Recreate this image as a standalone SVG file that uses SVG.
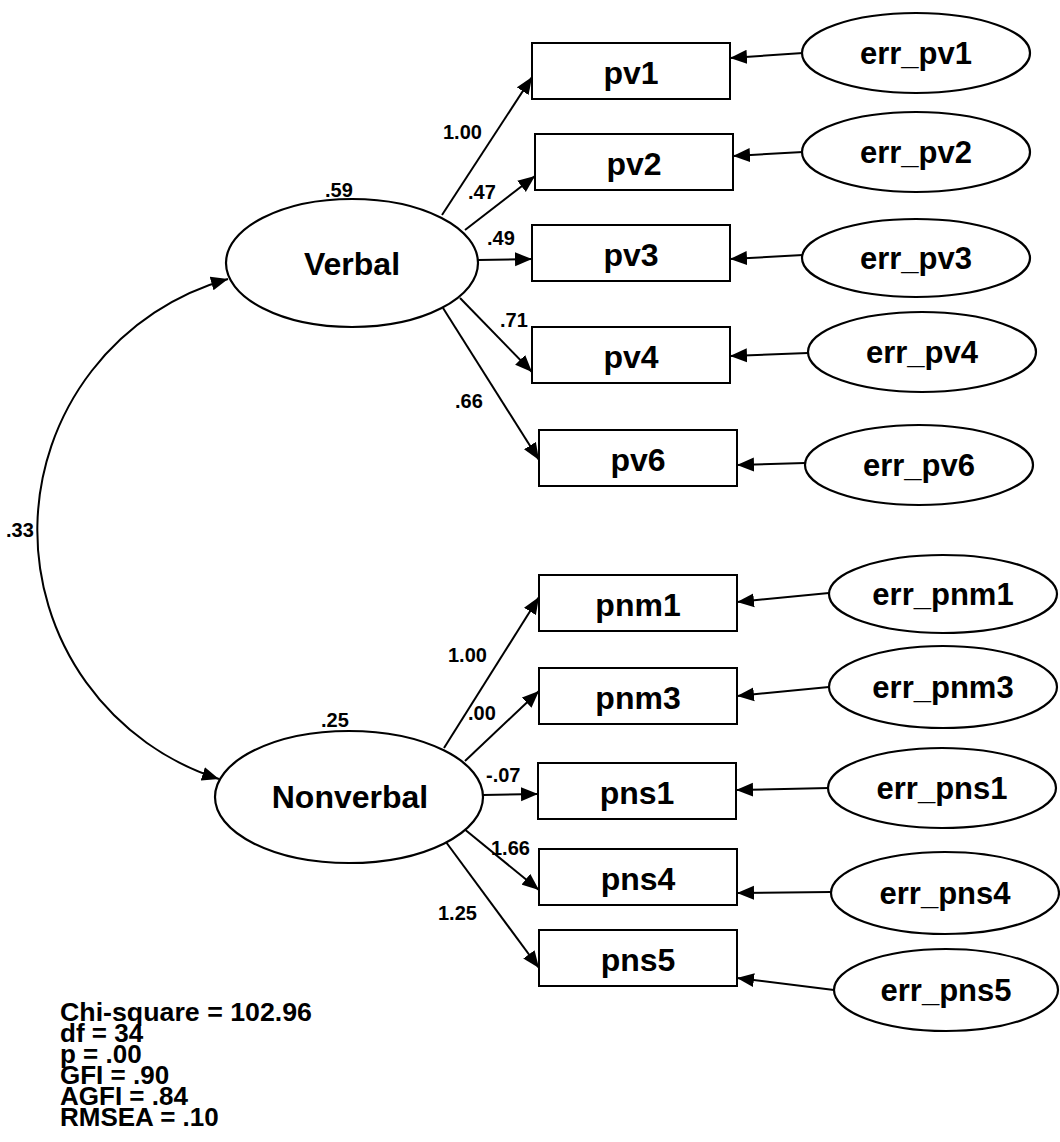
<svg xmlns="http://www.w3.org/2000/svg" width="1060" height="1142" viewBox="0 0 1060 1142">
  <style>
    .box { fill: #ffffff; stroke: #000000; stroke-width: 2; }
    .oval { fill: #ffffff; stroke: #000000; stroke-width: 2.2; }
    .node-label { font-family: "Liberation Sans", Arial, sans-serif; font-weight: bold; font-size: 32px; fill: #000000; text-anchor: middle; }
    .err-label { font-family: "Liberation Sans", Arial, sans-serif; font-weight: bold; font-size: 31px; fill: #000000; text-anchor: middle; }
    .coef { font-family: "Liberation Sans", Arial, sans-serif; font-weight: bold; font-size: 20px; fill: #000000; }
    .fit { font-family: "Liberation Sans", Arial, sans-serif; font-weight: bold; font-size: 26px; fill: #000000; }
    .edge { fill: none; stroke: #000000; stroke-width: 2; marker-end: url(#arrow); }
  </style>
  <defs>
    <marker id="arrow" markerUnits="userSpaceOnUse" markerWidth="19" markerHeight="15" refX="17" refY="7.5" orient="auto-start-reverse">
      <path d="M0,0.5 L17,7.5 L0,14.5 z" fill="#000000"/>
    </marker>
  </defs>
  <rect width="1060" height="1142" fill="#ffffff"/>

  <!-- connectors -->
  <g id="connectors">
    <!-- covariance between the latent factors -->
    <path class="edge" d="M228,279 A261,261 0 0 0 219,779" marker-start="url(#arrow)"/>
    <!-- Verbal loadings -->
    <line class="edge" x1="442" y1="215" x2="532" y2="77"/>
    <line class="edge" x1="465" y1="230" x2="535" y2="176"/>
    <line class="edge" x1="478" y1="260" x2="532" y2="259"/>
    <line class="edge" x1="460" y1="298" x2="532" y2="372"/>
    <line class="edge" x1="443" y1="308" x2="539" y2="460"/>
    <!-- Nonverbal loadings -->
    <line class="edge" x1="444" y1="748" x2="539" y2="597"/>
    <line class="edge" x1="465" y1="761" x2="539" y2="691"/>
    <line class="edge" x1="483" y1="795" x2="538" y2="794"/>
    <line class="edge" x1="463" y1="828" x2="539" y2="890"/>
    <line class="edge" x1="443" y1="838" x2="539" y2="968"/>
    <!-- error terms -->
    <line class="edge" x1="803" y1="53" x2="730" y2="58"/>
    <line class="edge" x1="803" y1="152" x2="733" y2="156"/>
    <line class="edge" x1="803" y1="255" x2="730" y2="259"/>
    <line class="edge" x1="808" y1="353" x2="730" y2="356"/>
    <line class="edge" x1="805" y1="463" x2="737" y2="465"/>
    <line class="edge" x1="829" y1="593" x2="737" y2="602"/>
    <line class="edge" x1="829" y1="687" x2="737" y2="696"/>
    <line class="edge" x1="829" y1="788" x2="736" y2="790"/>
    <line class="edge" x1="831" y1="892" x2="737" y2="893"/>
    <line class="edge" x1="834" y1="990" x2="737" y2="978"/>
  </g>

  <!-- coefficient labels -->
  <g id="coefficients">
    <text class="coef" x="325" y="197">.59</text>
    <text class="coef" x="443" y="139">1.00</text>
    <text class="coef" x="468" y="199">.47</text>
    <text class="coef" x="487" y="245">.49</text>
    <text class="coef" x="500" y="327">.71</text>
    <text class="coef" x="455" y="408">.66</text>
    <text class="coef" x="6" y="537">.33</text>
    <text class="coef" x="321" y="727">.25</text>
    <text class="coef" x="448" y="662">1.00</text>
    <text class="coef" x="468" y="720">.00</text>
    <text class="coef" x="486" y="782">-.07</text>
    <text class="coef" x="491" y="855">1.66</text>
    <text class="coef" x="438" y="920">1.25</text>
  </g>

  <!-- latent factors -->
  <g id="verbal">
    <ellipse class="oval" cx="352" cy="263" rx="126" ry="64"/>
    <text class="node-label" x="352" y="275">Verbal</text>
  </g>
  <g id="nonverbal">
    <ellipse class="oval" cx="349" cy="797" rx="134" ry="66"/>
    <text class="node-label" x="350" y="808">Nonverbal</text>
  </g>

  <!-- observed indicators -->
  <g id="pv1"><rect class="box" x="532" y="43" width="198" height="56"/><text class="node-label" x="631" y="84">pv1</text></g>
  <g id="pv2"><rect class="box" x="535" y="134" width="198" height="56"/><text class="node-label" x="634" y="175">pv2</text></g>
  <g id="pv3"><rect class="box" x="532" y="225" width="198" height="56"/><text class="node-label" x="631" y="266">pv3</text></g>
  <g id="pv4"><rect class="box" x="532" y="327" width="198" height="56"/><text class="node-label" x="631" y="368">pv4</text></g>
  <g id="pv6"><rect class="box" x="539" y="430" width="198" height="56"/><text class="node-label" x="638" y="471">pv6</text></g>
  <g id="pnm1"><rect class="box" x="539" y="575" width="198" height="56"/><text class="node-label" x="638" y="616">pnm1</text></g>
  <g id="pnm3"><rect class="box" x="539" y="668" width="198" height="56"/><text class="node-label" x="638" y="709">pnm3</text></g>
  <g id="pns1"><rect class="box" x="538" y="763" width="198" height="56"/><text class="node-label" x="637" y="804">pns1</text></g>
  <g id="pns4"><rect class="box" x="539" y="849" width="198" height="56"/><text class="node-label" x="638" y="890">pns4</text></g>
  <g id="pns5"><rect class="box" x="539" y="930" width="198" height="56"/><text class="node-label" x="638" y="971">pns5</text></g>

  <!-- error terms -->
  <g id="err_pv1"><ellipse class="oval" cx="916" cy="53" rx="114" ry="40"/><text class="err-label" x="916" y="64">err_pv1</text></g>
  <g id="err_pv2"><ellipse class="oval" cx="916" cy="152" rx="114" ry="40"/><text class="err-label" x="916" y="163">err_pv2</text></g>
  <g id="err_pv3"><ellipse class="oval" cx="916" cy="258" rx="114" ry="39"/><text class="err-label" x="916" y="269">err_pv3</text></g>
  <g id="err_pv4"><ellipse class="oval" cx="922" cy="352" rx="114" ry="40"/><text class="err-label" x="922" y="363">err_pv4</text></g>
  <g id="err_pv6"><ellipse class="oval" cx="919" cy="465" rx="114" ry="40"/><text class="err-label" x="919" y="476">err_pv6</text></g>
  <g id="err_pnm1"><ellipse class="oval" cx="943" cy="594" rx="114" ry="39"/><text class="err-label" x="943" y="605">err_pnm1</text></g>
  <g id="err_pnm3"><ellipse class="oval" cx="943" cy="687" rx="114" ry="41"/><text class="err-label" x="943" y="698">err_pnm3</text></g>
  <g id="err_pns1"><ellipse class="oval" cx="942" cy="788" rx="114" ry="40"/><text class="err-label" x="942" y="799">err_pns1</text></g>
  <g id="err_pns4"><ellipse class="oval" cx="945" cy="893" rx="114" ry="41"/><text class="err-label" x="945" y="904">err_pns4</text></g>
  <g id="err_pns5"><ellipse class="oval" cx="946" cy="990" rx="112" ry="41"/><text class="err-label" x="946" y="1001">err_pns5</text></g>

  <!-- fit statistics -->
  <g id="fit-stats">
    <text class="fit" x="60" y="1021" textLength="252" lengthAdjust="spacingAndGlyphs">Chi-square = 102.96</text>
    <text class="fit" x="60" y="1042">df = 34</text>
    <text class="fit" x="60" y="1063">p = .00</text>
    <text class="fit" x="60" y="1084">GFI = .90</text>
    <text class="fit" x="60" y="1105">AGFI = .84</text>
    <text class="fit" x="60" y="1126">RMSEA = .10</text>
  </g>
</svg>
